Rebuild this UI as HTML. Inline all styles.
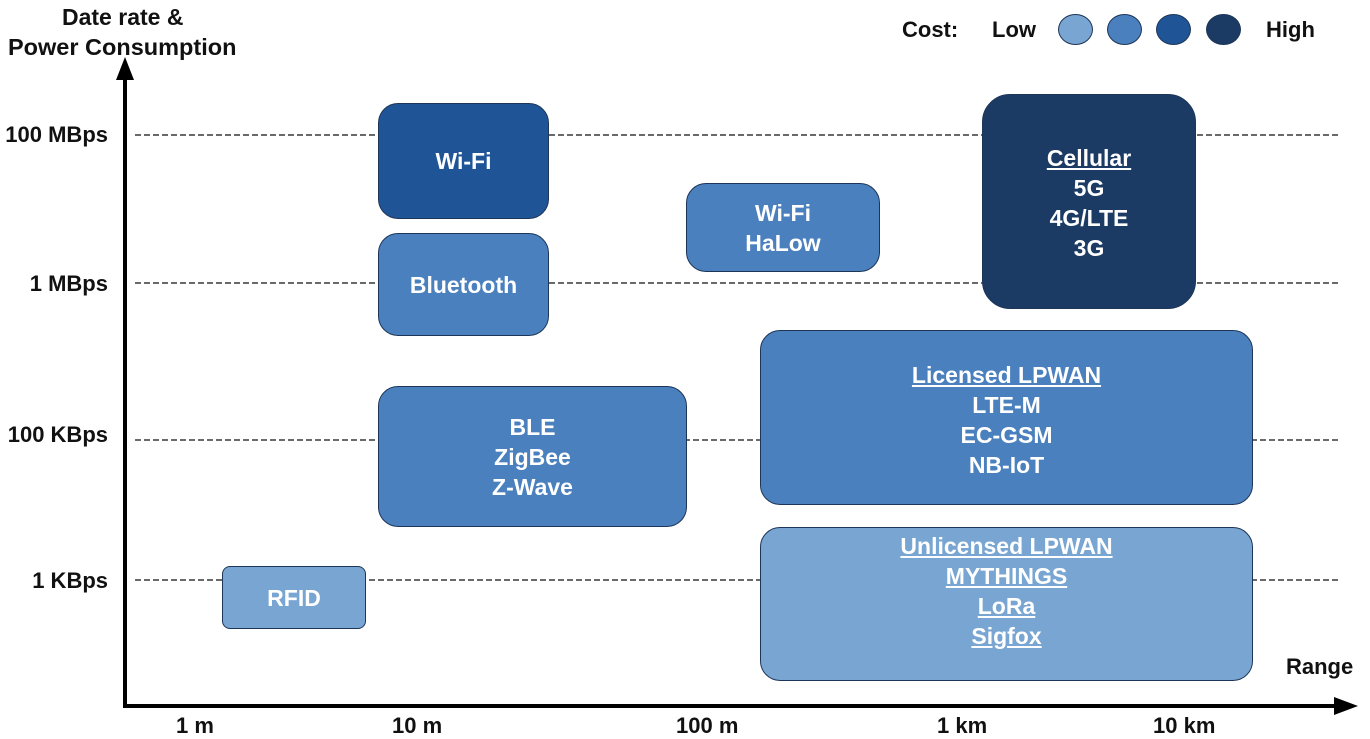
<!DOCTYPE html>
<html><head><meta charset="utf-8"><style>
body{margin:0;background:#fff;}
.w{position:relative;width:1370px;height:739px;overflow:hidden;font-family:"Liberation Sans",Arial,sans-serif;font-weight:bold;}
.t{position:absolute;color:#111;font-size:22px;white-space:nowrap;line-height:24px;}
.b{position:absolute;box-sizing:border-box;border:1.5px solid #1d3558;border-radius:20px;color:#fff;font-size:23px;display:flex;flex-direction:column;align-items:center;justify-content:center;line-height:30px;text-align:center;}
.u{text-decoration:underline;}
.l1{background:#78a5d1}.l2{background:#4a80bd}.l3{background:#1f5597}.l4{background:#1b3a64}
.c{position:absolute;width:35px;height:31px;border-radius:50%;border:1.5px solid #1d3558;box-sizing:border-box;top:14px;}
</style></head><body><div class="w">
<svg width="1370" height="739" style="position:absolute;left:0;top:0">
<g stroke="#111" stroke-width="1.3" stroke-dasharray="6,3">
<line x1="135" y1="135" x2="1340" y2="135"/>
<line x1="135" y1="283" x2="1340" y2="283"/>
<line x1="135" y1="440" x2="1340" y2="440"/>
<line x1="135" y1="580" x2="1340" y2="580"/>
</g>
<line x1="125" y1="75" x2="125" y2="707" stroke="#000" stroke-width="4"/>
<polygon points="125,57 116,80 134,80" fill="#000"/>
<line x1="123" y1="706" x2="1340" y2="706" stroke="#000" stroke-width="4"/>
<polygon points="1358,706 1334,697 1334,715" fill="#000"/>
</svg>
<div class="t" style="left:62px;top:5px;font-size:23px">Date rate &amp;</div>
<div class="t" style="left:8px;top:35px;font-size:23.5px">Power Consumption</div>
<div class="t" style="right:1262px;top:123px">100 MBps</div>
<div class="t" style="right:1262px;top:272px">1 MBps</div>
<div class="t" style="right:1262px;top:423px">100 KBps</div>
<div class="t" style="right:1262px;top:569px">1 KBps</div>
<div class="t" style="left:176px;top:714px">1 m</div>
<div class="t" style="left:392px;top:714px">10 m</div>
<div class="t" style="left:676px;top:714px">100 m</div>
<div class="t" style="left:937px;top:714px">1 km</div>
<div class="t" style="left:1153px;top:714px">10 km</div>
<div class="t" style="left:1286px;top:655px">Range</div>
<div class="t" style="left:902px;top:18px">Cost:</div>
<div class="t" style="left:992px;top:18px">Low</div>
<div class="c l1" style="left:1058px"></div>
<div class="c l2" style="left:1107px"></div>
<div class="c l3" style="left:1156px"></div>
<div class="c l4" style="left:1206px"></div>
<div class="t" style="left:1266px;top:18px">High</div>
<div class="b l3" style="left:378px;top:103px;width:171px;height:116px">Wi-Fi</div>
<div class="b l2" style="left:378px;top:233px;width:171px;height:103px">Bluetooth</div>
<div class="b l2" style="left:686px;top:183px;width:194px;height:89px">Wi-Fi<br>HaLow</div>
<div class="b l4" style="left:982px;top:94px;width:214px;height:215px;border-radius:28px;justify-content:flex-start;padding-top:48px"><span class="u">Cellular</span>5G<br>4G/LTE<br>3G</div>
<div class="b l2" style="left:378px;top:386px;width:309px;height:141px">BLE<br>ZigBee<br>Z-Wave</div>
<div class="b l2" style="left:760px;top:330px;width:493px;height:175px;justify-content:flex-start;padding-top:29px"><span class="u">Licensed LPWAN</span>LTE-M<br>EC-GSM<br>NB-IoT</div>
<div class="b l1" style="left:760px;top:527px;width:493px;height:154px;justify-content:flex-start;padding-top:3px"><span class="u">Unlicensed LPWAN</span><span class="u">MYTHINGS</span><span class="u">LoRa</span><span class="u">Sigfox</span></div>
<div class="b l1" style="left:222px;top:566px;width:144px;height:63px;border-radius:8px">RFID</div>
</div></body></html>
